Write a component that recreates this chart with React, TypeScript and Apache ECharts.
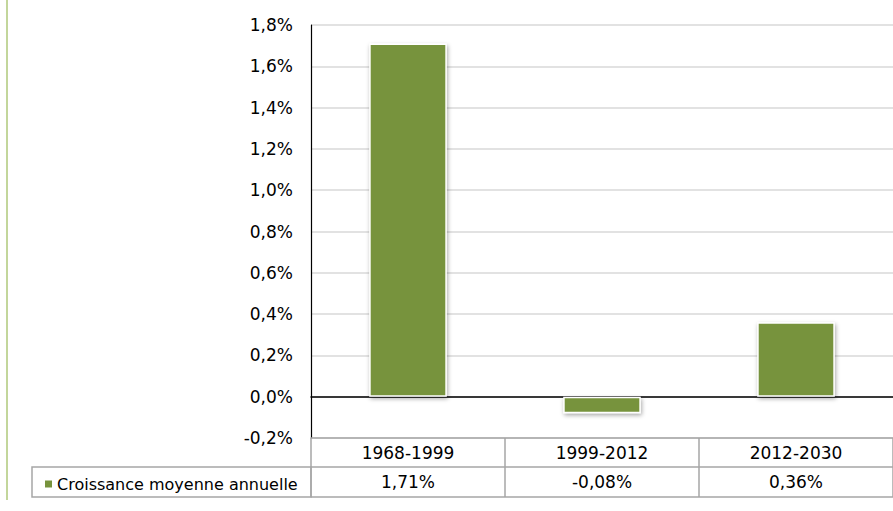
import React, { useEffect, useRef } from "react";
import * as echarts from "echarts";

const categories = ["1968-1999", "1999-2012", "2012-2030"];
const values = [1.71, -0.08, 0.36];
const seriesName = "Croissance moyenne annuelle";
const yMin = -0.2;
const yMax = 1.8;
const yStep = 0.2;

const FONT = "DejaVu Sans";
const GRAY = "#a6a6a6";

const fmtPct = (v: number, d: number) => v.toFixed(d).replace(".", ",") + "%";

export default function App() {
  const ref = useRef<HTMLDivElement>(null);
  useEffect(() => {
    if (!ref.current) return;
    const chart = echarts.init(ref.current, undefined, { renderer: "svg" });
    const labelBase = { fontFamily: FONT, fontSize: 17, color: "#000" };
    chart.setOption({
      animation: false,
      backgroundColor: "#fff",
      grid: { left: 311, right: 0, top: 25, bottom: 73, containLabel: false },
      legend: {
        show: true,
        left: 38,
        top: 471,
        itemWidth: 9,
        itemHeight: 9,
        itemGap: 0,
        icon: "rect",
        textStyle: { ...labelBase, fontSize: 16, padding: [0, 0, 0, -1] },
        data: [seriesName],
      },
      yAxis: {
        type: "value",
        min: yMin,
        max: yMax,
        interval: yStep,
        axisLine: { show: true, lineStyle: { color: "#000", width: 1.2 } },
        axisTick: { show: false },
        splitLine: { lineStyle: { color: "#d9d9d9", width: 1.5 } },
        axisLabel: {
          ...labelBase,
          margin: 18,
          formatter: (v: number) => fmtPct(v, 1),
        },
      },
      xAxis: [
        {
          type: "category",
          data: categories,
          axisLine: { onZero: true, lineStyle: { color: "#000", width: 1.5 } },
          axisTick: { show: false },
          axisLabel: { show: false },
        },
        {
          type: "category",
          data: categories,
          position: "bottom",
          offset: 0,
          axisLine: { onZero: false, lineStyle: { color: GRAY, width: 1.5 } },
          axisTick: {
            show: true,
            length: 59,
            lineStyle: { color: GRAY, width: 1.5 },
          },
          axisLabel: { ...labelBase, margin: 6 },
        },
        {
          type: "category",
          data: categories,
          position: "bottom",
          offset: 29,
          axisLine: { onZero: false, lineStyle: { color: GRAY, width: 1.5 } },
          axisTick: { show: false },
          axisLabel: {
            ...labelBase,
            margin: 6,
            formatter: (_: string, i: number) => fmtPct(values[i], 2),
          },
        },
        {
          type: "category",
          data: categories,
          position: "bottom",
          offset: 59,
          axisLine: { onZero: false, lineStyle: { color: GRAY, width: 1.5 } },
          axisTick: { show: false },
          axisLabel: { show: false },
        },
      ],
      graphic: [
        {
          type: "line",
          shape: { x1: 7, y1: 0, x2: 7, y2: 500 },
          style: { stroke: "#c3d69b", lineWidth: 2 },
        },
        {
          type: "rect",
          shape: { x: 32, y: 467, width: 279, height: 30 },
          style: { fill: "none", stroke: GRAY, lineWidth: 1.5 },
          z: 10,
        },
      ],
      series: [
        {
          name: seriesName,
          type: "bar",
          xAxisIndex: 0,
          data: values,
          barWidth: "40%",
          itemStyle: {
            color: "#77933C",
            borderColor: "#ffffff",
            borderWidth: 1.5,
            shadowColor: "rgba(0,0,0,0.35)",
            shadowBlur: 4,
            shadowOffsetX: 1,
            shadowOffsetY: 2,
          },
        },
      ],
    });
    return () => chart.dispose();
  }, []);
  return (
    <div
      ref={ref}
      style={{ position: "fixed", left: 0, top: 0, width: 893, height: 511 }}
    />
  );
}
